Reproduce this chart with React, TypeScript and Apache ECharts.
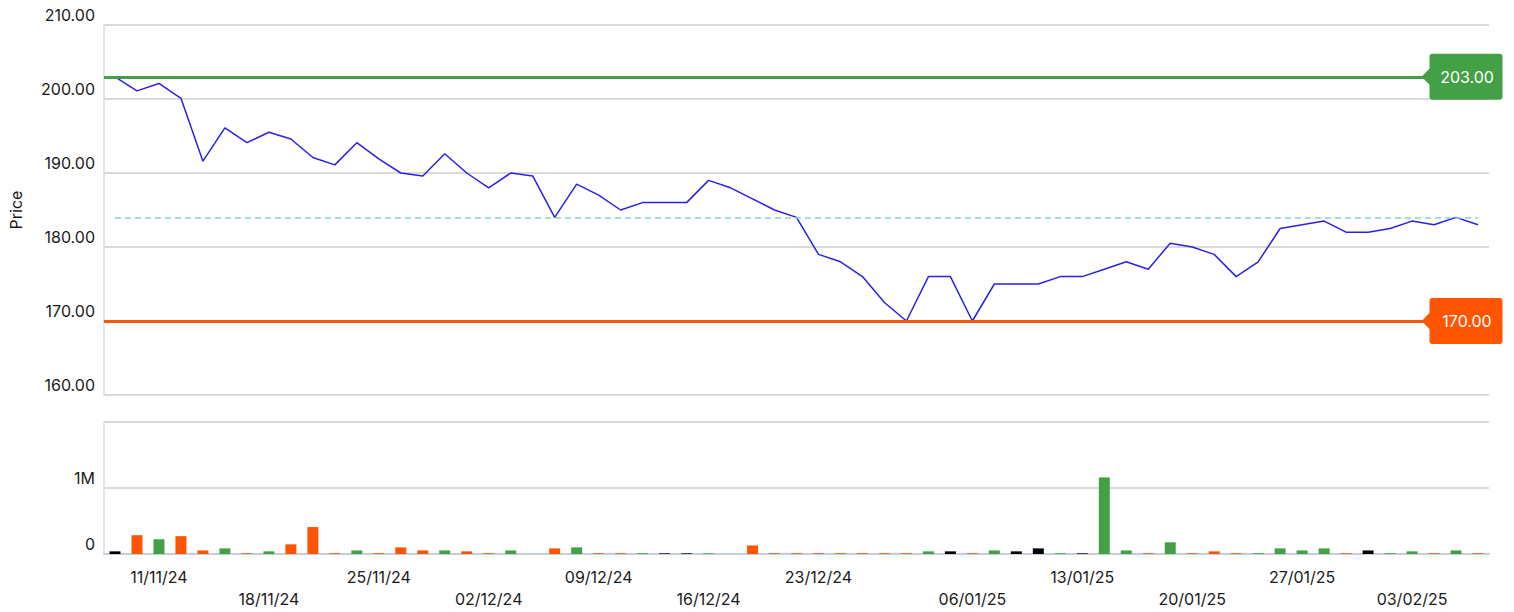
import React, { useEffect, useRef } from "react";
import * as echarts from "echarts";

// Trading days (dd/mm/yy)
const dates = [
  "07/11/24", "08/11/24", "11/11/24", "12/11/24", "13/11/24", "14/11/24", "15/11/24",
  "18/11/24", "19/11/24", "20/11/24", "21/11/24", "22/11/24",
  "25/11/24", "26/11/24", "27/11/24", "28/11/24", "29/11/24",
  "02/12/24", "03/12/24", "04/12/24", "05/12/24", "06/12/24",
  "09/12/24", "10/12/24", "11/12/24", "12/12/24", "13/12/24",
  "16/12/24", "17/12/24", "18/12/24", "19/12/24", "20/12/24",
  "23/12/24", "24/12/24", "27/12/24", "30/12/24", "31/12/24",
  "02/01/25", "03/01/25",
  "06/01/25", "07/01/25", "08/01/25", "09/01/25", "10/01/25",
  "13/01/25", "14/01/25", "15/01/25", "16/01/25", "17/01/25",
  "20/01/25", "21/01/25", "22/01/25", "23/01/25", "24/01/25",
  "27/01/25", "28/01/25", "29/01/25", "30/01/25", "31/01/25",
  "03/02/25", "04/02/25", "05/02/25", "06/02/25",
];

const prices = [
  203.0, 201.1, 202.1, 200.1, 191.6, 196.1, 194.1,
  195.5, 194.6, 192.1, 191.1, 194.1,
  191.9, 190.0, 189.6, 192.6, 190.0,
  188.0, 190.0, 189.6, 184.0, 188.5,
  187.0, 185.0, 186.0, 186.0, 186.0,
  189.0, 188.0, 186.5, 185.0, 184.0,
  179.0, 178.0, 176.0, 172.5, 170.0,
  176.0, 176.0,
  170.0, 175.0, 175.0, 175.0, 176.0,
  176.0, 177.0, 178.0, 177.0, 180.5,
  180.0, 179.0, 176.0, 178.0, 182.5,
  183.0, 183.5, 182.0, 182.0, 182.5,
  183.5, 183.0, 184.0, 183.0,
];

const volumes = [
  40000, 285000, 223000, 270000, 54000, 85000, 12000,
  40000, 146000, 408000, 12000, 54000,
  12000, 100000, 54000, 54000, 40000,
  12000, 54000, 0, 85000, 100000,
  12000, 12000, 12000, 10000, 10000,
  10000, 0, 130000, 12000, 12000,
  12000, 12000, 12000, 12000, 12000,
  40000, 40000,
  12000, 54000, 40000, 85000, 12000,
  10000, 1160000, 54000, 12000, 177000,
  12000, 40000, 12000, 12000, 85000,
  54000, 85000, 12000, 54000, 12000,
  40000, 12000, 54000, 12000,
];

const tickLabels = [
  "11/11/24", "18/11/24", "25/11/24", "02/12/24", "09/12/24", "16/12/24",
  "23/12/24", "06/01/25", "13/01/25", "20/01/25", "27/01/25", "03/02/25",
];

const referencePrice = 184;

const GREEN = "#43a047";
const ORANGE = "#ff5500";
const BLACK = "#000000";
const LINE_BLUE = "#2b20e8";
const TEXT = "#1a1a1a";
const TAG_PATH =
  "path://M11,0 H78 Q81,0 81,3 V43 Q81,46 78,46 H11 Q8,46 8,43 V31 L0,23 L8,15 V3 Q8,0 11,0 Z";

export default function App() {
  const ref = useRef<HTMLDivElement>(null);

  useEffect(() => {
    const chart = echarts.init(ref.current!, null, { renderer: "svg" });
    const maxPrice = Math.max(...prices);
    const minPrice = Math.min(...prices);
    const lastDate = dates[dates.length - 1];
    const barColors = prices.map((p, i) =>
      i === 0 ? BLACK : p > prices[i - 1] ? GREEN : p < prices[i - 1] ? ORANGE : BLACK
    );

    const option: any = {
      animation: false,
      textStyle: { fontFamily: "Inter, 'Noto Sans', sans-serif" },
      grid: [
        { left: 104, right: 25, top: 25, height: 370 },
        { left: 104, right: 25, top: 422, height: 132 },
      ],
      xAxis: [
        {
          type: "category",
          gridIndex: 0,
          data: dates,
          boundaryGap: true,
          show: false,
        },
        {
          type: "category",
          gridIndex: 1,
          data: dates,
          boundaryGap: true,
          axisLine: { show: true, lineStyle: { color: "#c6ced8", width: 2 } },
          axisTick: { show: false },
          splitLine: { show: false },
          axisLabel: {
            interval: (_i: number, v: string) => tickLabels.includes(v),
            formatter: (v: string) => {
              const k = tickLabels.indexOf(v);
              return k % 2 === 1 ? "\n" + v : v;
            },
            color: TEXT,
            fontSize: 16,
            lineHeight: 22,
            margin: 12,
          },
        },
      ],
      yAxis: [
        {
          type: "value",
          gridIndex: 0,
          min: 160,
          max: 210,
          interval: 10,
          name: "Price",
          nameLocation: "middle",
          nameGap: 80,
          nameTextStyle: { fontSize: 16, color: TEXT },
          axisLine: { show: true, lineStyle: { color: "#d5ddef", width: 1.5 } },
          axisTick: { show: false },
          axisLabel: {
            formatter: (v: number) => v.toFixed(2),
            verticalAlign: "bottom",
            lineHeight: 20,
            margin: 9,
            fontSize: 16,
            color: TEXT,
          },
          splitLine: { lineStyle: { color: "#cccccc", width: 1.5 } },
        },
        {
          type: "value",
          gridIndex: 1,
          min: 0,
          max: 2000000,
          interval: 1000000,
          axisLine: { show: true, lineStyle: { color: "#d5ddef", width: 1.5 } },
          axisTick: { show: false },
          axisLabel: {
            formatter: (v: number) => (v === 0 ? "0" : v === 1000000 ? "1M" : ""),
            verticalAlign: "bottom",
            lineHeight: 20,
            margin: 9,
            fontSize: 16,
            color: TEXT,
          },
          splitLine: { lineStyle: { color: "#cccccc", width: 1.5 } },
        },
      ],
      series: [
        {
          type: "line",
          xAxisIndex: 0,
          yAxisIndex: 0,
          data: prices,
          symbol: "none",
          lineStyle: { color: LINE_BLUE, width: 1.5 },
          itemStyle: { color: LINE_BLUE },
          silent: true,
          markLine: {
            silent: true,
            symbol: "none",
            label: { show: false },
            emphasis: { disabled: true },
            data: [
              { type: "max", lineStyle: { color: GREEN, width: 3, type: "solid" } },
              { type: "min", lineStyle: { color: ORANGE, width: 3, type: "solid" } },
              [
                {
                  coord: [dates[0], referencePrice],
                  lineStyle: { color: "#8ecfcf", width: 1.5, type: [6, 4] },
                },
                { coord: [lastDate, referencePrice] },
              ],
            ],
          },
          markPoint: {
            z: 6,
            silent: true,
            symbol: TAG_PATH,
            symbolSize: [81, 46],
            symbolKeepAspect: false,
            symbolOffset: [-16, 0],
            label: {
              show: true,
              position: "inside",
              offset: [5, 0],
              color: "#ffffff",
              fontSize: 16,
              formatter: (p: any) => Number(p.value).toFixed(2),
            },
            data: [
              { coord: [lastDate, maxPrice], value: maxPrice, itemStyle: { color: GREEN } },
              { coord: [lastDate, minPrice], value: minPrice, itemStyle: { color: ORANGE } },
            ],
          },
        },
        {
          type: "bar",
          xAxisIndex: 1,
          yAxisIndex: 1,
          barWidth: "50%",
          silent: true,
          data: volumes.map((v, i) => ({ value: v, itemStyle: { color: barColors[i] } })),
        },
      ],
    };

    chart.setOption(option);
    return () => chart.dispose();
  }, []);

  return (
    <div
      ref={ref}
      style={{ position: "absolute", left: 0, top: 0, width: 1514, height: 612 }}
    />
  );
}
